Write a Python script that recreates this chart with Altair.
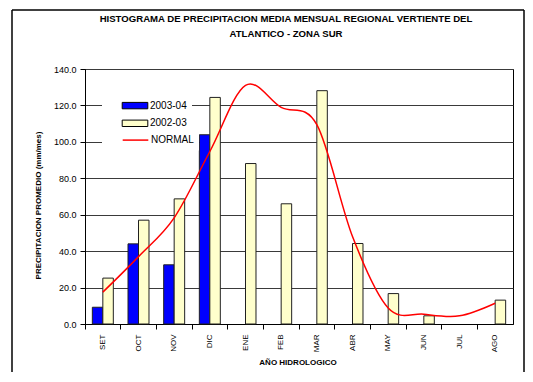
import altair as alt
import pandas as pd

meses = ["SET", "OCT", "NOV", "DIC", "ENE", "FEB", "MAR", "ABR", "MAY", "JUN", "JUL", "AGO"]
series = ["2003-04", "2002-03"]
p_2003_04 = [9.2, 44.0, 32.5, 103.9, None, None, None, None, None, None, None, None]
p_2002_03 = [25.2, 57.0, 68.7, 124.4, 88.1, 66.0, 128.1, 44.2, 16.7, 4.5, None, 13.1]
normal = [17.5, 37.0, 58.3, 94.7, 131.0, 118.9, 109.4, 48.0, 8.8, 5.4, 4.5, 11.4]
y_ticks = [0, 20, 40, 60, 80, 100, 120, 140]

rows = []
for m, a, b in zip(meses, p_2003_04, p_2002_03):
    if a is not None:
        rows.append({"mes": m, "serie": series[0], "valor": a})
    if b is not None:
        rows.append({"mes": m, "serie": series[1], "valor": b})
bars_df = pd.DataFrame(rows)
line_df = pd.DataFrame({"mes": meses, "valor": normal, "tipo": ["NORMAL"] * len(meses)})

FONT = "Liberation Sans"

x_axis = alt.Axis(
    title="AÑO HIDROLOGICO",
    bandPosition=0,
    labelOffset=0,
    labelAngle=270,
    labelFontSize=8,
    labelPadding=5,
    labelColor="#000000",
    tickSize=5,
    tickColor="#000000",
    domainColor="#000000",
    grid=False,
    titleFontSize=8,
    titleFontWeight="bold",
    titleX=212.5,
    titleY=34,
    titleAlign="center",
)
x_scale = alt.Scale(domain=meses, paddingInner=0, paddingOuter=0)

y_axis = alt.Axis(
    title="PRECIPITACION PROMEDIO (mm/mes)",
    values=y_ticks,
    format=".1f",
    labelOverlap=False,
    labelFontSize=9,
    labelPadding=4,
    labelColor="#000000",
    tickSize=5,
    tickColor="#000000",
    domainColor="#000000",
    grid=True,
    gridColor="#3a3a3a",
    gridWidth=1,
    titleFontSize=8,
    titleFontWeight="bold",
    titleX=-43,
    titleY=136,
    titleAlign="center",
    titleAngle=270,
)
y_scale = alt.Scale(domain=[0, 140], nice=False)

bars = alt.Chart(bars_df).mark_bar(stroke="#202020", strokeWidth=1).encode(
    x=alt.X("mes:N", sort=meses, scale=x_scale, axis=x_axis),
    y=alt.Y("valor:Q", scale=y_scale, axis=y_axis),
    xOffset=alt.XOffset(
        "serie:N",
        sort=series,
        scale=alt.Scale(domain=series, paddingInner=0, paddingOuter=0.7),
    ),
    color=alt.Color(
        "serie:N",
        sort=series,
        scale=alt.Scale(domain=series, range=["#0000FF", "#FFFFCC"]),
        legend=alt.Legend(
            title=None,
            orient="none",
            legendX=17,
            legendY=24.6,
            symbolType="M-2,-0.5H2V0.5H-2Z",
            symbolSize=164,
            symbolOffset=21,
            symbolStrokeColor="#000000",
            symbolStrokeWidth=1,
            labelFontSize=10,
            labelOffset=8,
            rowPadding=4.7,
            padding=5,
            fillColor="#FFFFFF",
            zindex=1,
        ),
    ),
)

line = alt.Chart(line_df).mark_line(color="#FF0000", strokeWidth=1.5, interpolate="cardinal").encode(
    x=alt.X("mes:N", sort=meses, scale=x_scale, axis=x_axis),
    y=alt.Y("valor:Q", scale=y_scale, axis=y_axis),
    stroke=alt.Stroke(
        "tipo:N",
        scale=alt.Scale(domain=["NORMAL"], range=["#FF0000"]),
        legend=alt.Legend(
            title=None,
            orient="none",
            legendX=17,
            legendY=58.6,
            symbolType="M-2,0H2",
            symbolSize=164,
            symbolOffset=21,
            symbolStrokeWidth=1.5,
            labelFontSize=10,
            labelOffset=8,
            padding=5,
            fillColor="#FFFFFF",
            zindex=2,
        ),
    ),
)

frame_data = alt.Data(values=[{"k": 1}])
frame_left = alt.Chart(frame_data).mark_rule(color="#000000", strokeWidth=1.5).encode(
    x=alt.value(-73), x2=alt.value(-73), y=alt.value(-59), y2=alt.value(400)
)
frame_right = alt.Chart(frame_data).mark_rule(color="#000000", strokeWidth=1.5).encode(
    x=alt.value(439), x2=alt.value(439), y=alt.value(-59), y2=alt.value(400)
)
frame_top = alt.Chart(frame_data).mark_rule(color="#000000", strokeWidth=1.5).encode(
    x=alt.value(-73), x2=alt.value(439), y=alt.value(-59), y2=alt.value(-59)
)

chart = alt.layer(bars, line, frame_left, frame_right, frame_top).resolve_scale(
    color="independent"
).properties(
    width=428,
    height=255,
    autosize=alt.AutoSizeParams(type="none"),
    padding={"left": 77, "top": 61, "right": 12, "bottom": 48},
    title=alt.TitleParams(
        text=[
            "HISTOGRAMA DE PRECIPITACION MEDIA MENSUAL REGIONAL VERTIENTE DEL",
            "ATLANTICO - ZONA SUR",
        ],
        fontSize=9.6,
        fontWeight="bold",
        font=FONT,
        color="#000000",
        anchor="middle",
        dx=-13,
        offset=0,
        dy=29,
        lineHeight=15,
    ),
).configure(font=FONT, background="#FFFFFF").configure_view(
    stroke="#000000", strokeWidth=1
)

chart.save("out.html", embed_options={"renderer": "svg", "actions": False})
